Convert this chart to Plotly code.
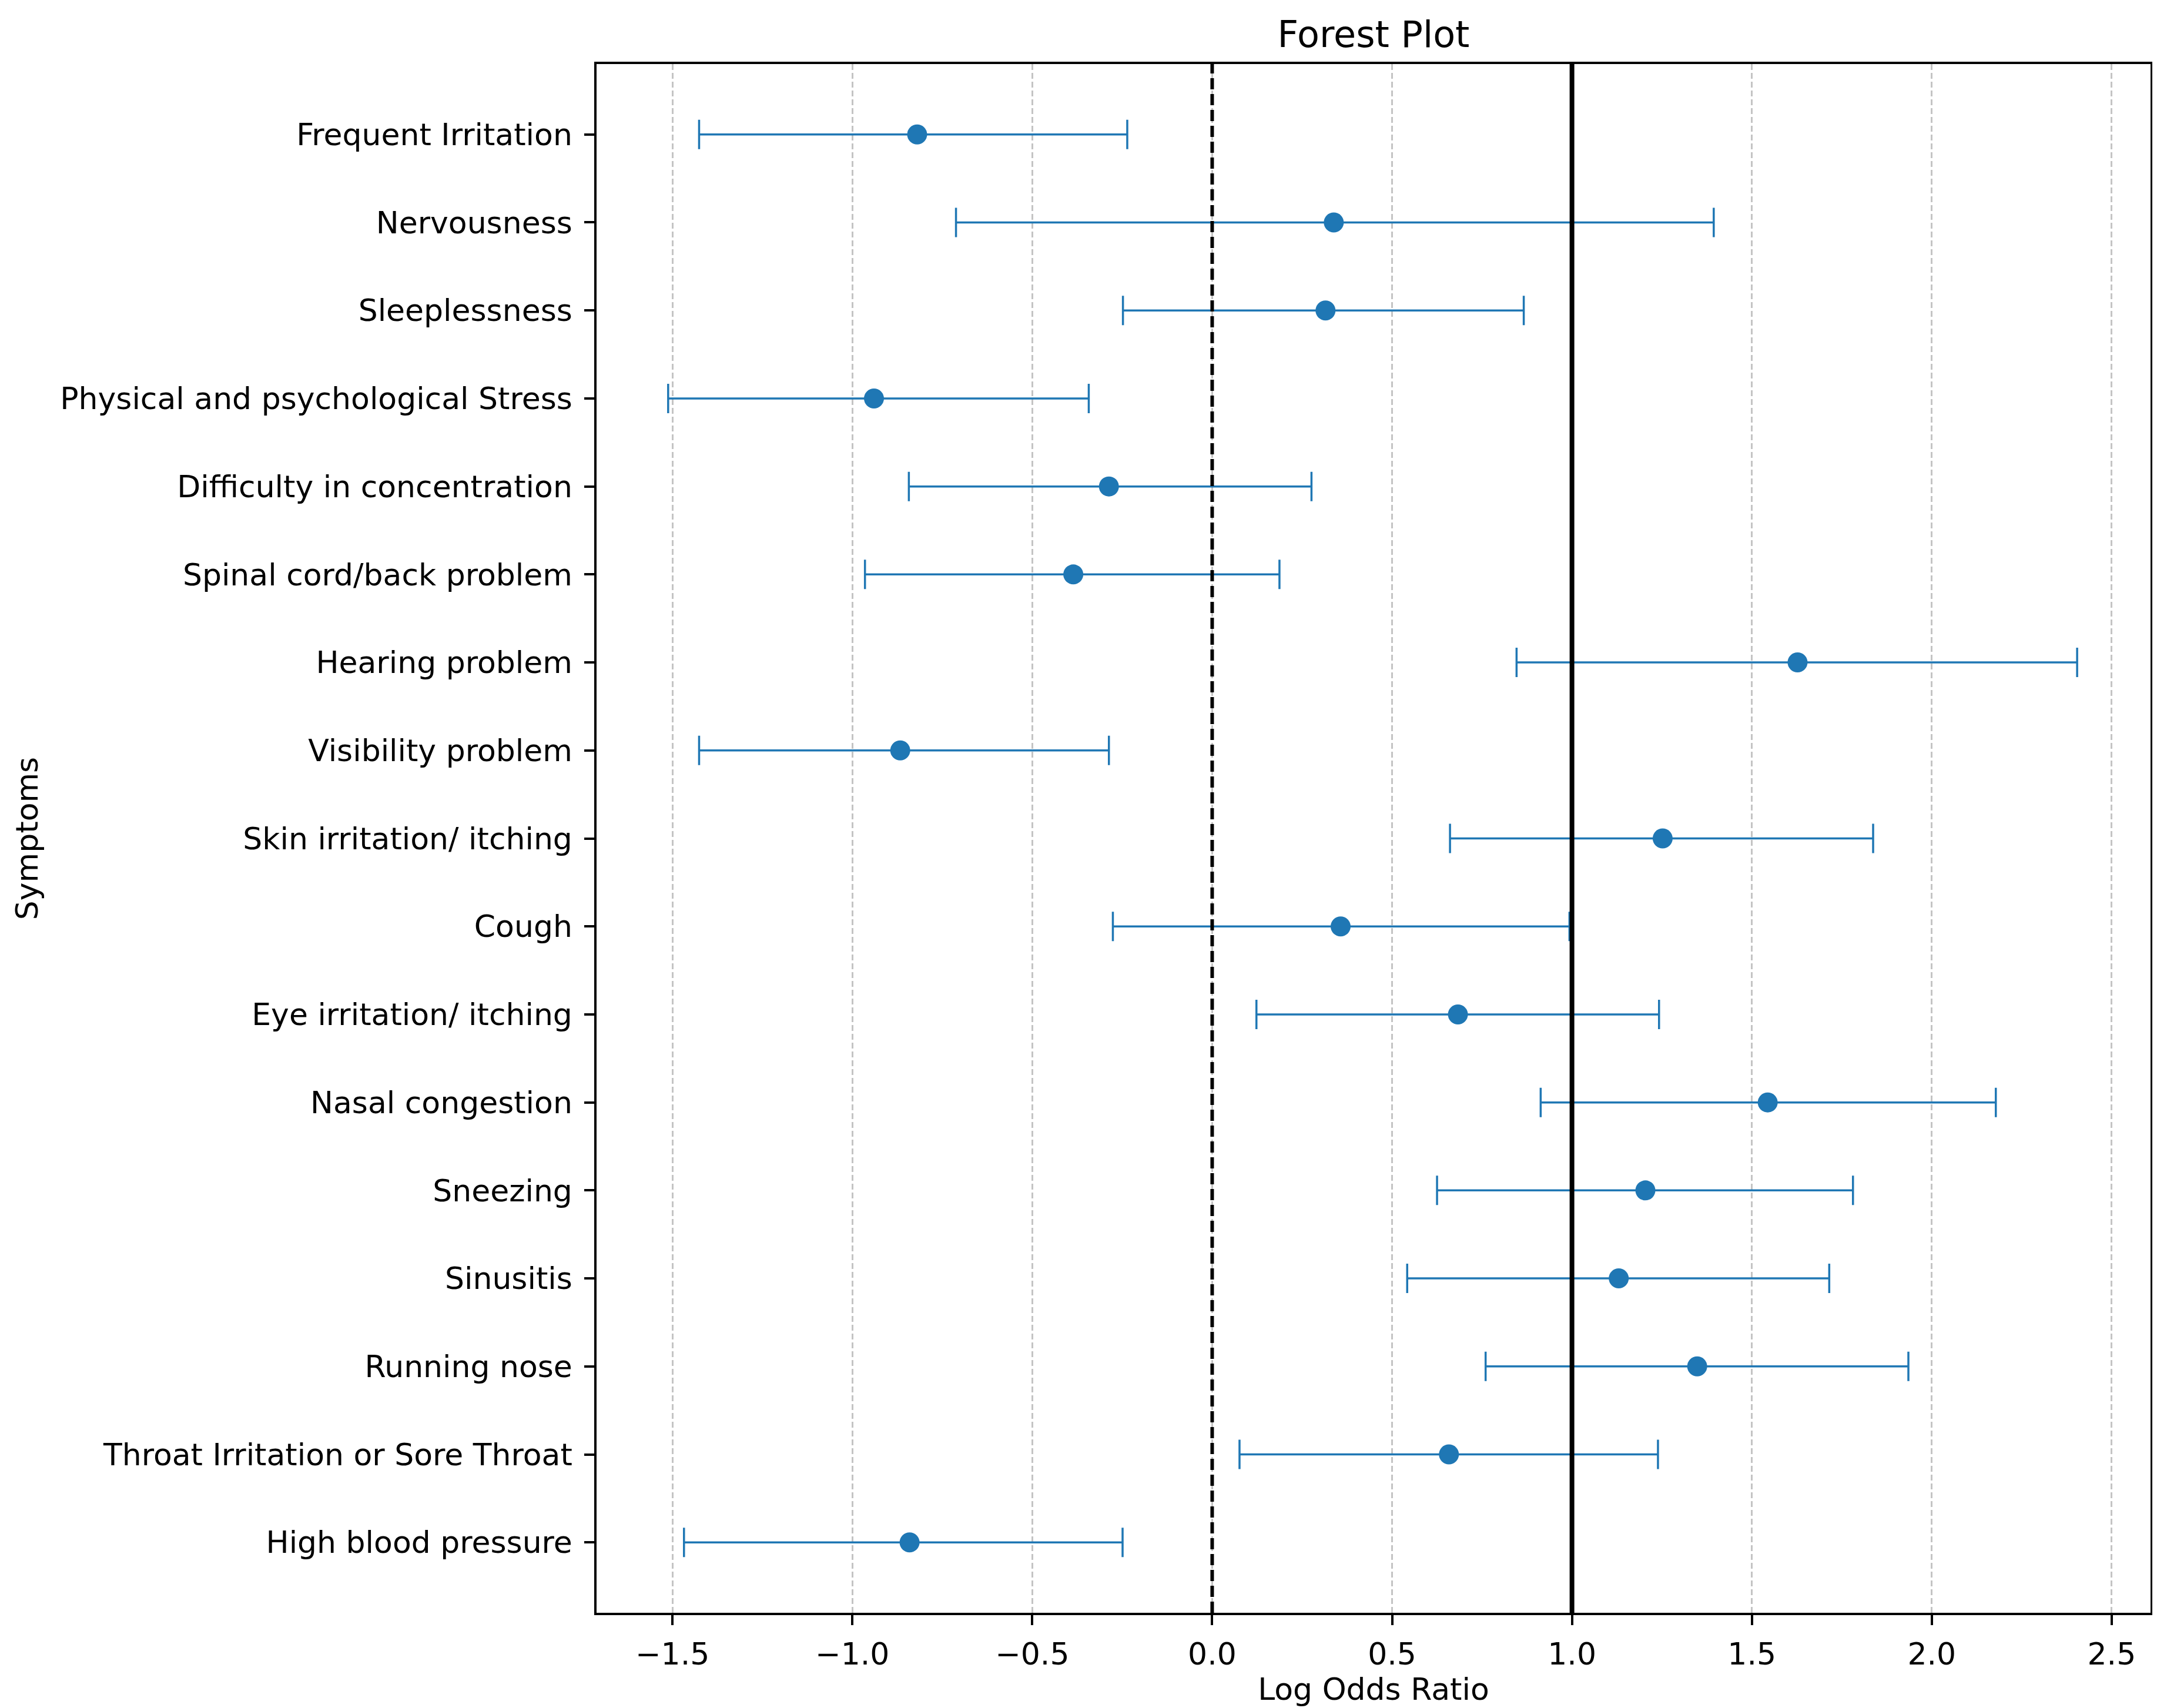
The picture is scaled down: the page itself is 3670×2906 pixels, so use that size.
import plotly.graph_objects as go

symptoms = [
    "Frequent Irritation", "Nervousness", "Sleeplessness",
    "Physical and psychological Stress", "Difficulty in concentration",
    "Spinal cord/back problem", "Hearing problem", "Visibility problem",
    "Skin irritation/ itching", "Cough", "Eye irritation/ itching",
    "Nasal congestion", "Sneezing", "Sinusitis", "Running nose",
    "Throat Irritation or Sore Throat", "High blood pressure",
]
log_odds = [-0.82, 0.338, 0.315, -0.94, -0.287, -0.386, 1.627, -0.867,
            1.252, 0.357, 0.683, 1.544, 1.204, 1.130, 1.348, 0.658, -0.841]
ci_lower = [-1.426, -0.712, -0.248, -1.512, -0.843, -0.965, 0.846, -1.426,
            0.661, -0.276, 0.123, 0.913, 0.625, 0.542, 0.760, 0.076, -1.468]
ci_upper = [-0.236, 1.394, 0.866, -0.343, 0.276, 0.187, 2.404, -0.287,
            1.837, 0.993, 1.242, 2.178, 1.781, 1.715, 1.935, 1.239, -0.249]

x_ticks = [-1.5, -1.0, -0.5, 0.0, 0.5, 1.0, 1.5, 2.0, 2.5]
x_tick_labels = ["\u22121.5", "\u22121.0", "\u22120.5", "0.0", "0.5", "1.0", "1.5", "2.0", "2.5"]
null_line = 0.0
ref_line = 1.0

BLUE = "#1f77b4"
FONT = "DejaVu Sans"

err_plus = [u - e for u, e in zip(ci_upper, log_odds)]
err_minus = [e - l for e, l in zip(log_odds, ci_lower)]

fig = go.Figure()
fig.add_trace(go.Scatter(
    x=log_odds, y=symptoms, mode="markers",
    marker=dict(color=BLUE, size=34, line=dict(width=0)),
    error_x=dict(type="data", symmetric=False, array=err_plus, arrayminus=err_minus,
                 color=BLUE, thickness=3.5, width=25),
    showlegend=False,
))

fig.add_vline(x=null_line, line=dict(color="black", width=6, dash="19px,8px"), layer="above")
fig.add_vline(x=ref_line, line=dict(color="black", width=8), layer="above")

fig.update_layout(
    width=3670, height=2906,
    margin=dict(l=1007, r=19, t=101, b=170),
    paper_bgcolor="white", plot_bgcolor="white",
    font=dict(family=FONT, size=52, color="black"),
    title=dict(text="Forest Plot", x=(1007 + 3651) / 2 / 3670, xanchor="center",
               y=1 - 50 / 2906, yanchor="middle", font=dict(size=62, family=FONT)),
)
fig.update_xaxes(
    range=[-1.711, 2.608], tickvals=x_ticks, ticktext=x_tick_labels,
    showgrid=True, gridcolor="#c4c4c4", gridwidth=2.5, griddash="10px,5px",
    zeroline=False, showline=True, linecolor="black", linewidth=3.5, mirror=True,
    ticks="outside", ticklen=17, tickwidth=3.5, tickcolor="black",
    tickfont=dict(size=52), ticklabelstandoff=5,
    title=dict(text="Log Odds Ratio", font=dict(size=52), standoff=6),
)
fig.update_yaxes(
    type="category", categoryorder="array", categoryarray=symptoms,
    range=[16.8, -0.8], showgrid=False, zeroline=False,
    showline=True, linecolor="black", linewidth=3.5, mirror=True,
    ticks="outside", ticklen=17, tickwidth=3.5, tickcolor="black",
    tickfont=dict(size=52), ticklabelstandoff=10,
    title=dict(text="Symptoms", font=dict(size=52), standoff=22),
)

fig.write_html("out.html")
